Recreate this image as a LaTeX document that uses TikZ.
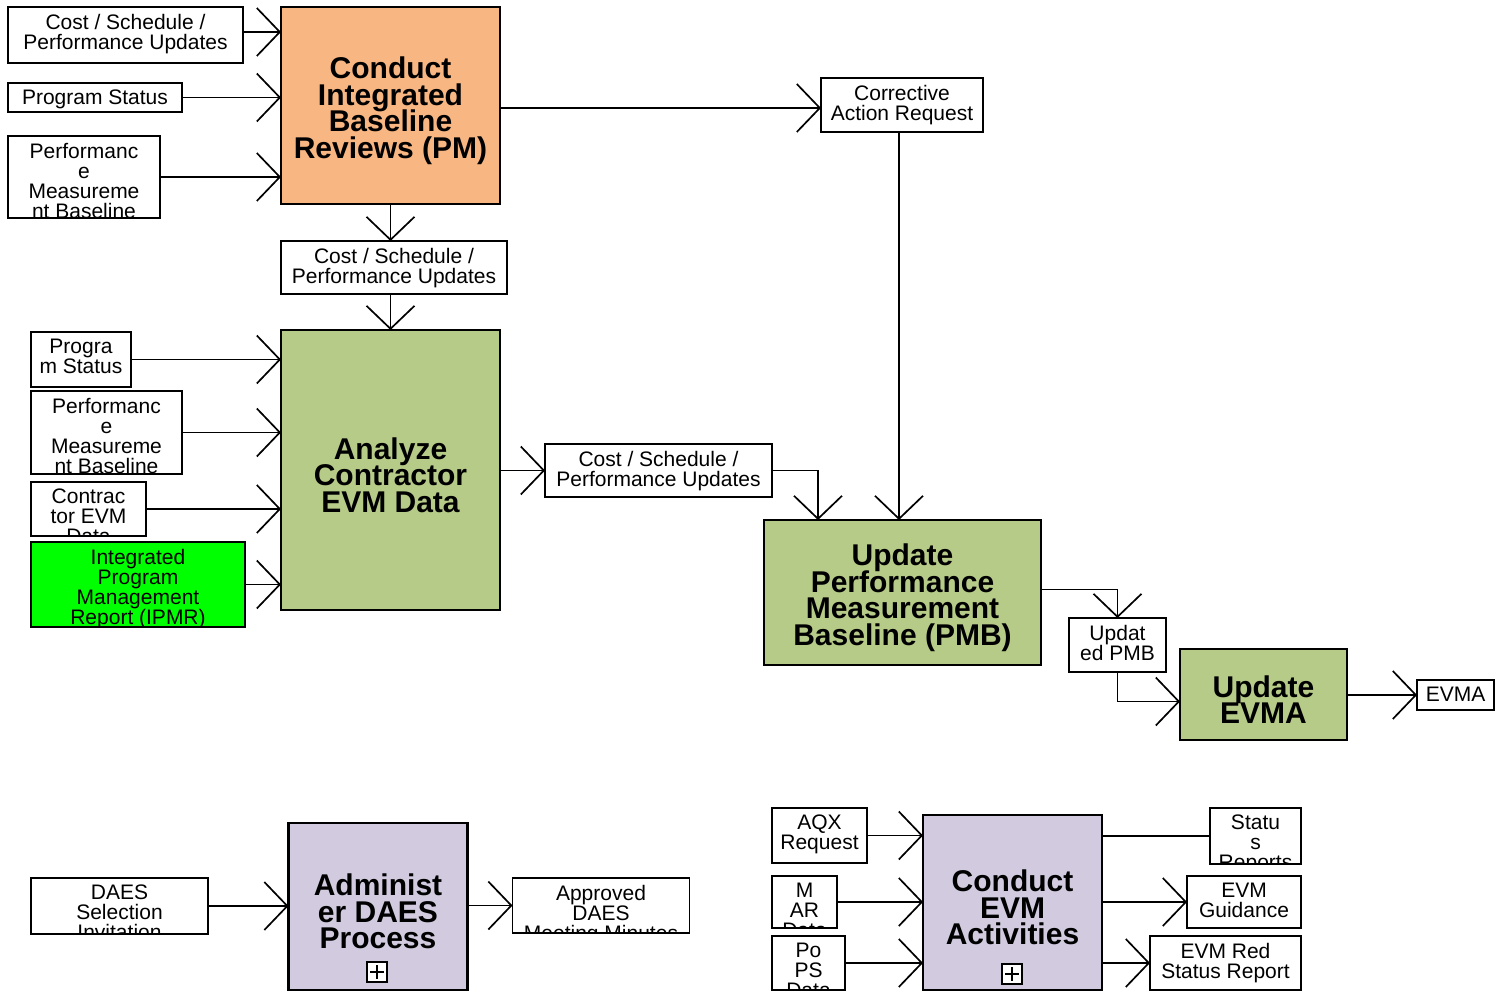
\documentclass[tikz,border=0pt]{standalone}
\usepackage{fontspec}
\setmainfont{Liberation Sans}
\usetikzlibrary{arrows.meta,positioning}
\definecolor{pmorange}{RGB}{248,182,130}
\definecolor{procgreen}{RGB}{183,203,136}
\definecolor{proclilac}{RGB}{210,203,224}
\definecolor{ipmrgreen}{RGB}{0,255,0}
\newcommand{\boxfont}{\fontsize{21}{20}\selectfont\lineskiplimit=-30pt}
\newcommand{\procfont}{\fontsize{30}{26.5}\selectfont\bfseries\lineskiplimit=-30pt}

\begin{document}
\begin{tikzpicture}[x=1pt, y=-1pt,
  databox/.style={draw, line width=1.7pt, fill=white, inner sep=0pt, outer sep=0pt,
    path picture={\node[anchor=north, inner sep=0pt, minimum width=0pt, minimum height=0pt,
      align=center, font=\boxfont] at ([yshift=-7pt]path picture bounding box.north) {#1};}},
  procbox/.style={draw, line width=2.6pt, inner sep=0pt, outer sep=0pt,
    path picture={\node[inner sep=0pt, minimum width=0pt, minimum height=0pt,
      align=center, font=\procfont] at ([yshift=-5pt]path picture bounding box.center) {#1};}},
  plusbox/.style={draw, line width=1.2pt, fill=white, minimum size=20pt, inner sep=0pt,
    path picture={
      \draw[line width=1.2pt] ([yshift=-3pt]path picture bounding box.north)
        -- ([yshift=3pt]path picture bounding box.south);
      \draw[line width=1.2pt] ([xshift=3pt]path picture bounding box.west)
        -- ([xshift=-3pt]path picture bounding box.east);}},
  flow/.style={line width=1.7pt, -{Straight Barb[length=23pt, width=48pt]}},
  link/.style={line width=1.7pt}]

\useasboundingbox (0,0) rectangle (1497,992);

% Conduct IBR
\node[databox={Cost / Schedule /\\Performance Updates}, minimum width=235pt, minimum height=56pt] (csp1) at (125.5,35) {};
\node[databox={Program Status}, minimum width=174pt, minimum height=29pt] (ps1) at (95,97.5) {};
\node[databox={Performanc\\e\\Measureme\\nt Baseline}, minimum width=152pt, minimum height=82pt] (pmb1) at (84,177) {};
\node[procbox={Conduct\\Integrated\\Baseline\\Reviews (PM)}, fill=pmorange, minimum width=219pt, minimum height=197pt] (pm) at (390.5,105.5) {};
\node[databox={Corrective\\Action Request}, minimum width=162pt, minimum height=54pt] (car) at (902,105) {};

\draw[flow] ([yshift=3pt]csp1.east) -- ([yshift=3pt]csp1.east -| pm.west);
\draw[flow] (ps1.east) -- (ps1.east -| pm.west);
\draw[flow] (pmb1.east) -- (pmb1.east -| pm.west);
\draw[flow] ([yshift=-3pt]pm.east |- car.west) -- ([yshift=-3pt]car.west);

% Analyze contractor data
\node[databox={Cost / Schedule /\\Performance Updates}, minimum width=226pt, minimum height=53pt] (csp2) at (394,267.5) {};
\node[procbox={Analyze\\Contractor\\EVM Data}, fill=procgreen, minimum width=219pt, minimum height=280pt] (evm) at (390.5,470) {};
\node[databox={Progra\\m Status}, minimum width=100pt, minimum height=55pt] (ps2) at (81,359.5) {};
\node[databox={Performanc\\e\\Measureme\\nt Baseline}, minimum width=151pt, minimum height=83pt] (pmb2) at (106.5,432.5) {};
\node[databox={Contrac\\tor EVM\\Data}, minimum width=115pt, minimum height=54pt] (ced) at (88.5,509) {};
\node[databox={Integrated\\Program\\Management\\Report (IPMR)}, fill=ipmrgreen, minimum width=214pt, minimum height=85pt] (ipmr) at (138,584.5) {};
\node[databox={Cost / Schedule /\\Performance Updates}, minimum width=227pt, minimum height=53pt] (csp3) at (658.5,470.5) {};

\draw[flow] (pm.south) -- (pm.south |- csp2.north);
\draw[flow] (csp2.south -| evm.north) -- (evm.north);
\draw[flow] (ps2.east) -- (ps2.east -| evm.west);
\draw[flow] (pmb2.east) -- (pmb2.east -| evm.west);
\draw[flow] (ced.east) -- (ced.east -| evm.west);
\draw[flow] (ipmr.east) -- (ipmr.east -| evm.west);
\draw[flow] (evm.east |- csp3.west) -- (csp3.west);

% Update PMB and EVMA
\node[procbox={Update\\Performance\\Measurement\\Baseline (PMB)}, fill=procgreen, minimum width=277pt, minimum height=145pt] (pmb) at (902.5,592.5) {};
\node[databox={Updat\\ed PMB}, minimum width=97pt, minimum height=54pt] (upmb) at (1117.5,645) {};
\node[procbox={Update\\EVMA}, fill=procgreen, minimum width=167pt, minimum height=91pt] (uevma) at (1263.5,694.5) {};
\node[databox={EVMA}, minimum width=77pt, minimum height=30pt] (evma) at (1455.5,695) {};

\draw[flow] (csp3.east) -| ([xshift=54pt]pmb.north west);
\draw[flow] ([xshift=-3pt]car.south) -- ([xshift=-3pt]car.south |- pmb.north);
\draw[flow] ([yshift=3pt]pmb.east) -| (upmb.north);
\draw[flow] (upmb.south) |- ([yshift=-7pt]uevma.west);
\draw[flow] (uevma.east |- evma.west) -- (evma.west);

% Administer DAES
\node[databox={DAES\\Selection\\Invitation}, minimum width=177pt, minimum height=56pt] (daes) at (119.5,906) {};
\node[procbox={Administ\\er DAES\\Process}, fill=proclilac, minimum width=179pt, minimum height=167pt] (adm) at (378,906.5) {};
\node[plusbox] (admplus) at (377,972) {};
\node[databox={Approved\\DAES\\Meeting Minutes}, minimum width=177pt, minimum height=55pt] (appr) at (601,905.5) {};

\draw[flow] (daes.east) -- (daes.east -| adm.west);
\draw[flow] (adm.east |- appr.west) -- (appr.west);

% Conduct EVM activities
\node[databox={AQX\\Request}, minimum width=95pt, minimum height=55pt] (aqx) at (819.5,835.5) {};
\node[databox={M\\AR\\Data}, minimum width=65pt, minimum height=52pt] (mar) at (804.5,902) {};
\node[databox={Po\\PS\\Data}, minimum width=73pt, minimum height=54pt] (pops) at (808.5,963) {};
\node[procbox={Conduct\\EVM\\Activities}, fill=proclilac, minimum width=179pt, minimum height=175pt] (cea) at (1012.5,902.5) {};
\node[plusbox] (ceaplus) at (1012,974) {};
\node[databox={Statu\\s\\Reports}, minimum width=91pt, minimum height=56pt] (status) at (1255.5,836) {};
\node[databox={EVM\\Guidance}, minimum width=114pt, minimum height=52pt] (guid) at (1244,902) {};
\node[databox={EVM Red\\Status Report}, minimum width=151pt, minimum height=54pt] (red) at (1225.5,963) {};

\draw[flow] (aqx.east) -- (aqx.east -| cea.west);
\draw[flow] (mar.east) -- (mar.east -| cea.west);
\draw[flow] (pops.east) -- (pops.east -| cea.west);
\draw[link] (cea.east |- status.west) -- (status.west);
\draw[flow] (cea.east |- guid.west) -- (guid.west);
\draw[flow] (cea.east |- red.west) -- (red.west);

\end{tikzpicture}
\end{document}
